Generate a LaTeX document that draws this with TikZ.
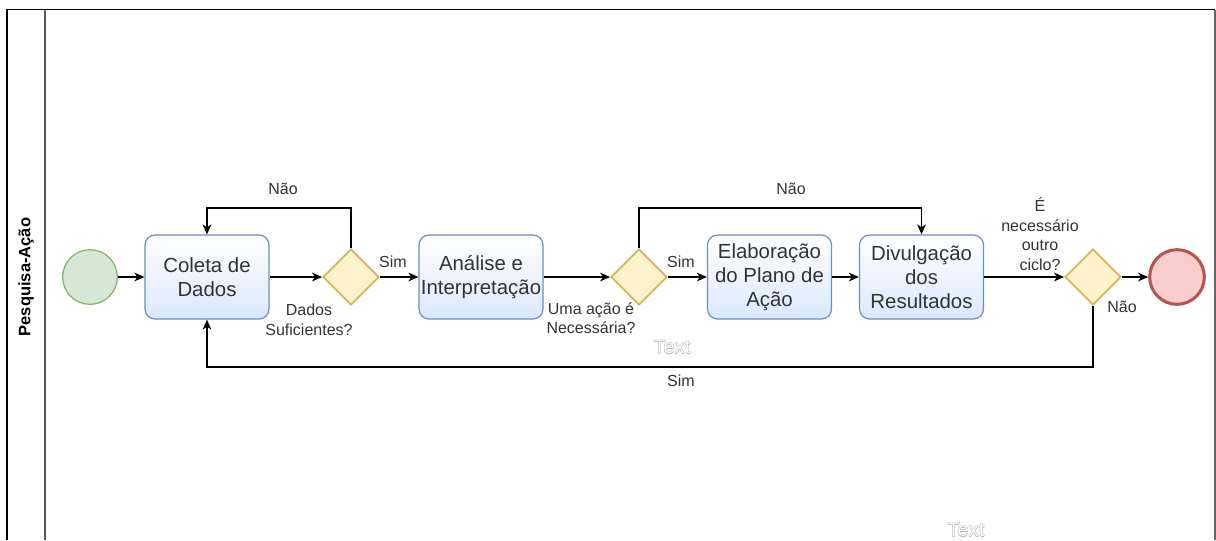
\documentclass[tikz,border=0pt]{standalone}
\usepackage{fontspec}
\setmainfont{Liberation Sans}
\usetikzlibrary{shapes.geometric,arrows.meta}
\definecolor{txt}{HTML}{333333}
\definecolor{taskfill}{HTML}{DAE8FC}
\definecolor{taskline}{HTML}{6C8EBF}
\definecolor{gatefill}{HTML}{FFF2CC}
\definecolor{gateline}{HTML}{D6B656}
\definecolor{startfill}{HTML}{D5E8D4}
\definecolor{startline}{HTML}{82B366}
\definecolor{endfill}{HTML}{F8CECC}
\definecolor{endline}{HTML}{B85450}
% hollow lettering: grey rim with white face
\newcommand\hollowtext[1]{\leavevmode
  \rlap{\kern-0.4pt\textcolor{gray!60}{#1}}%
  \rlap{\kern0.4pt\textcolor{gray!60}{#1}}%
  \rlap{\raisebox{0.4pt}{\textcolor{gray!60}{#1}}}%
  \rlap{\raisebox{-0.4pt}{\textcolor{gray!60}{#1}}}%
  \textcolor{white}{#1}}
\tikzset{
  task/.style={rectangle, rounded corners=7.5pt, draw=taskline, line width=0.9pt,
    top color=white, bottom color=taskfill, minimum width=93pt, minimum height=63pt,
    inner sep=1pt, align=center, text=txt,
    font=\fontsize{15.3}{18}\selectfont},
  gate/.style={diamond, draw=gateline, fill=gatefill, line width=1.4pt,
    minimum width=42pt, minimum height=42pt, inner sep=0pt},
  startev/.style={circle, draw=startline, fill=startfill, line width=0.9pt,
    minimum size=41pt, inner sep=0pt},
  endev/.style={circle, draw=endline, fill=endfill, line width=2.3pt,
    minimum size=41pt, inner sep=0pt},
  lbl/.style={text=txt, align=center, inner sep=0pt,
    font=\fontsize{12}{14.6}\selectfont},
  hollow/.style={inner sep=0pt, font=\fontsize{15}{18}\selectfont},
  flow/.style={draw=black, line width=1.1pt,
    -{Stealth[length=7.5pt,width=6.5pt,inset=2.2pt]}},
  plain/.style={draw=black, line width=1.1pt}
}
\begin{document}
\begin{tikzpicture}[x=0.75pt,y=-0.75pt]
\useasboundingbox (0,0) rectangle (1216,540);
% pool frame and lane header
\draw[black, line width=1.3pt] (7,540) -- (7,9.5) -- (1215,9.5);
\draw[gray!80!black, line width=1.1pt] (1215,9.5) -- (1215,540);
\draw[gray!70!black, line width=1.2pt] (45,9.5) -- (45,540);
\node[rotate=90, font=\fontsize{12.4}{14}\selectfont\bfseries, inner sep=0pt] (lane) at (26,277) {Pesquisa-Ação};

% flow objects
\node[startev] (start) at (90,277) {};
\node[task] (coleta) at (207,277) {Coleta de\\Dados};
\node[gate] (d1) at (351,277) {};
\node[task] (analise) at (481,277) {Análise e\\Interpretação};
\node[gate] (d2) at (639,277) {};
\node[task] (elab) at (769.5,277) {Elaboração\\do Plano de\\Ação};
\node[task] (divul) at (921.5,277) {Divulgação\\dos\\Resultados};
\node[gate] (d3) at (1093,277) {};
\node[endev] (fim) at (1177,277) {};

% bend points of the loops
\coordinate (up1) at (351,208);
\coordinate (up2) at (639,208);
\coordinate (down3) at (1093,367);

% sequence flows
\draw[flow] (start) -- (coleta);
\draw[flow] (coleta) -- (d1);
\draw[flow] (d1) -- (analise);
\draw[flow] (d1.north) -- (up1) -| (coleta.north);
\draw[flow] (analise) -- (d2);
\draw[flow] (d2) -- (elab);
\draw[flow] (d2.north) -- (up2) -| (divul.north);
\draw[flow] (elab) -- (divul);
\draw[flow] (divul) -- (d3);
\draw[flow] (d3) -- (fim);
\draw[flow] (d3.south) -- (down3) -| (coleta.south);

% flow labels
\node[lbl] (l1nao) at (283,189) {Não};
\node[lbl] (l1sim) at (393,262) {Sim};
\node[lbl] (q1) at (309,320) {Dados\\Suficientes?};
\node[lbl] (q2) at (591,318) {Uma ação é\\Necessária?};
\node[lbl] (l2sim) at (681,262) {Sim};
\node[lbl] (l2nao) at (791,189) {Não};
\node[lbl, font=\fontsize{12}{14.8}\selectfont] (q3) at (1040,234) {É\\necessário\\outro\\ciclo?};
\node[lbl] (l3nao) at (1122,307) {Não};
\node[lbl] (l3sim) at (681,381) {Sim};

% stray placeholder captions
\node[hollow] (ph1) at (672,347) {\hollowtext{Text}};
\node[hollow] (ph2) at (966,530) {\hollowtext{Text}};
\end{tikzpicture}
\end{document}
